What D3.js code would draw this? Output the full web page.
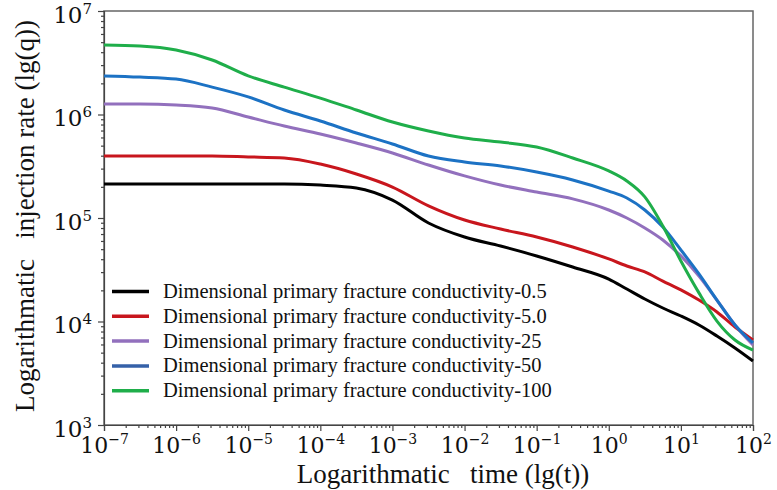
<!DOCTYPE html>
<html>
<head>
<meta charset="utf-8">
<title>injection rate</title>
<script src="https://cdnjs.cloudflare.com/ajax/libs/d3/7.8.5/d3.min.js"></script>
<style>
body { margin: 0; background: #fff; }
.tick text { font-family: "DejaVu Serif", serif; fill: #111; }
.axis path, .axis line { stroke: #444; stroke-width: 1.2; }
.label { font-family: "Liberation Serif", "Times New Roman", serif; font-size: 27px; fill: #111; white-space: pre; text-anchor: middle; }
.legend--label { font-family: "Liberation Serif", "Times New Roman", serif; font-size: 20.5px; fill: #111; }
.frame { fill: none; stroke: #666; stroke-width: 1.5; }
.curve { fill: none; stroke-width: 3; stroke-linejoin: round; }
</style>
</head>
<body>
<svg width="777" height="490"></svg>
<script>
// time points (s), shared by every series
var times = [1e-7, 3.16e-7, 1e-6, 3.16e-6, 1e-5, 3.16e-5, 1e-4, 3.16e-4, 1e-3, 3.16e-3,
  1e-2, 3.16e-2, 1e-1, 3.16e-1, 1, 1.78, 3.16, 5.62, 10, 17.8, 31.6, 56.2, 100];

var series = ["Dimensional primary fracture conductivity-0.5",
  "Dimensional primary fracture conductivity-5.0",
  "Dimensional primary fracture conductivity-25",
  "Dimensional primary fracture conductivity-50",
  "Dimensional primary fracture conductivity-100"];
var palette = ["#000000", "#c8161d", "#9270bd", "#1c72c4", "#1fae4a"];
var legendPalette = ["#000000", "#c8161d", "#9270bd", "#3561a8", "#1fae4a"];

var rate05 = [2.13e5, 2.13e5, 2.13e5, 2.13e5, 2.13e5, 2.13e5, 2.08e5, 1.95e5, 1.49e5, 8.95e4,
  6.55e4, 5.36e4, 4.30e4, 3.36e4, 2.57e4, 2.06e4, 1.65e4, 1.35e4, 1.13e4, 9.25e3, 7.24e3, 5.55e3, 4.15e3];
var rate5 = [3.97e5, 3.97e5, 3.97e5, 3.97e5, 3.89e5, 3.80e5, 3.32e5, 2.66e5, 1.99e5, 1.31e5,
  9.56e4, 7.83e4, 6.55e4, 5.25e4, 4.02e4, 3.44e4, 3.01e4, 2.46e4, 2.02e4, 1.61e4, 1.235e4, 8.85e3, 6.63e3];
var rate25 = [1.26e6, 1.26e6, 1.235e6, 1.156e6, 9.46e5, 7.74e5, 6.48e5, 5.30e5, 4.25e5, 3.25e5,
  2.55e5, 2.08e5, 1.78e5, 1.53e5, 1.195e5, 1.0e5, 8.01e4, 6.13e4, 4.30e4, 2.75e4, 1.61e4, 9.25e3, 5.93e3];
var rate50 = [2.36e6, 2.30e6, 2.20e6, 1.84e6, 1.48e6, 1.105e6, 8.65e5, 6.63e5, 5.19e5, 3.97e5,
  3.48e5, 3.18e5, 2.78e5, 2.33e5, 1.82e5, 1.56e5, 1.195e5, 8.18e4, 4.91e4, 2.88e4, 1.61e4, 9.25e3, 6.20e3];
var rate100 = [4.69e6, 4.59e6, 4.20e6, 3.36e6, 2.36e6, 1.84e6, 1.44e6, 1.105e6, 8.46e5, 6.93e5,
  5.93e5, 5.42e5, 4.85e5, 3.80e5, 2.85e5, 2.28e5, 1.60e5, 8.37e4, 3.84e4, 1.89e4, 1.01e4, 6.63e3, 5.30e3];
var rates = [rate05, rate5, rate25, rate50, rate100];

var xExp = [-7, -6, -5, -4, -3, -2, -1, 0, 1, 2];
var yExp = [3, 4, 5, 6, 7];

var pArea = [104, 11, 753, 425];
var x = d3.scaleLog().domain([1e-7, 1e2]).range([pArea[0], pArea[2]]);
var y = d3.scaleLog().domain([1e3, 1e7]).range([pArea[3], pArea[1]]);

var svg = d3.select("svg");
var g = svg.append("g");

function minors(exps) {
  var out = [];
  for (var i = 0; i < exps.length - 1; i++)
    for (var k = 2; k <= 9; k++) out.push(k * Math.pow(10, exps[i]));
  return out;
}
function supLabel(sel, exp, big, small) {
  sel.text(null);
  sel.append("tspan").style("font-size", big + "px").text("10");
  sel.append("tspan").style("font-size", small + "px").attr("dy", -9)
    .text(exp < 0 ? "\u2212" + (-exp) : exp);
}

// frame (top + right)
g.append("rect").attr("class", "frame")
  .attr("x", pArea[0]).attr("y", pArea[1])
  .attr("width", pArea[2] - pArea[0]).attr("height", pArea[3] - pArea[1]);

// x axis
var xm = g.append("g").attr("class", "axis")
  .attr("transform", `translate(0,${pArea[3]})`)
  .call(d3.axisBottom(x).tickValues(minors(xExp)).tickSize(3).tickFormat(""));
xm.select(".domain").remove();
xm.selectAll(".tick text").remove();
var xa = g.append("g").attr("class", "axis")
  .attr("transform", `translate(0,${pArea[3]})`)
  .call(d3.axisBottom(x).tickValues(xExp.map(function (e) { return Math.pow(10, e); })).tickSizeOuter(0).tickSize(6));
xa.selectAll(".tick text").attr("y", 28).attr("dy", null)
  .each(function (d, i) { supLabel(d3.select(this), xExp[i], 22, 14); });

// y axis
var ym = g.append("g").attr("class", "axis")
  .attr("transform", `translate(${pArea[0]},0)`)
  .call(d3.axisLeft(y).tickValues(minors(yExp)).tickSize(3).tickFormat(""));
ym.select(".domain").remove();
ym.selectAll(".tick text").remove();
var ya = g.append("g").attr("class", "axis")
  .attr("transform", `translate(${pArea[0]},0)`)
  .call(d3.axisLeft(y).tickValues(yExp.map(function (e) { return Math.pow(10, e); })).tickSizeOuter(0).tickSize(6).tickPadding(6));
ya.selectAll(".tick text").attr("dy", null).attr("y", 11)
  .each(function (d, i) { supLabel(d3.select(this), yExp[i], 23, 15); });

// axis titles
g.append("text").attr("class", "label")
  .attr("x", 443).attr("y", 483)
  .text("Logarithmatic   time (lg(t))");
g.append("text").attr("class", "label")
  .attr("transform", "rotate(-90)")
  .attr("x", -216).attr("y", 34)
  .text("Logarithmatic   injection rate (lg(q))");

// curves
var line = d3.line()
  .x(function (d) { return x(d[0]); })
  .y(function (d) { return y(d[1]); })
  .curve(d3.curveMonotoneX);
g.selectAll(".curve")
  .data(rates)
  .enter().append("path")
  .attr("class", "curve")
  .attr("stroke", function (d, i) { return palette[i]; })
  .attr("d", function (d) { return line(times.map(function (t, j) { return [t, d[j]]; })); });

// legend
var legend = g.append("g").attr("transform", "translate(112,291.5)");
var items = legend.selectAll(".legend--item")
  .data(series)
  .enter().append("g")
  .attr("transform", function (d, i) { return `translate(0,${i * 24.8})`; });
items.append("line")
  .attr("x1", 0).attr("x2", 37).attr("y1", 0).attr("y2", 0)
  .attr("stroke-width", 3.5)
  .attr("stroke", function (d, i) { return legendPalette[i]; });
items.append("text")
  .attr("class", "legend--label")
  .attr("x", 51).attr("y", 6.5)
  .text(function (d) { return d; });
</script>
</body>
</html>
